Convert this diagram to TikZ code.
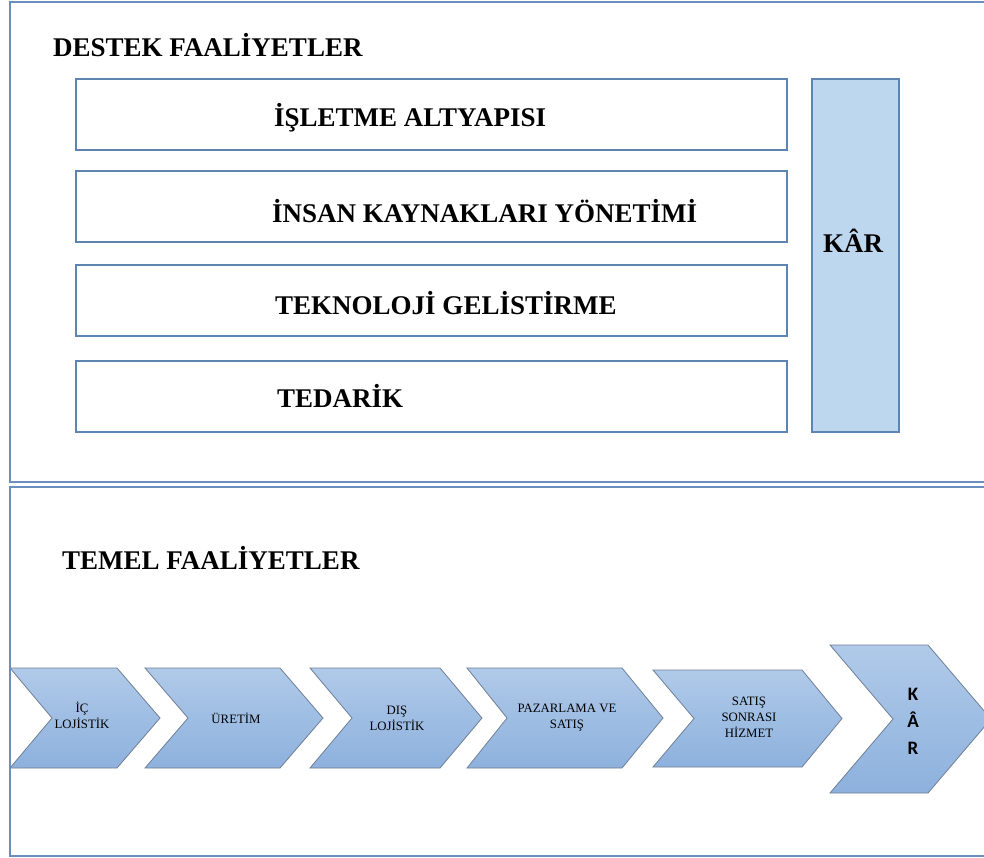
\documentclass[tikz,border=0pt]{standalone}
\usepackage{fontspec}
\setmainfont{Liberation Serif}
\newfontfamily\calib{Carlito}
\definecolor{frameblue}{HTML}{6A8FBF}
\definecolor{boxline}{HTML}{5E84B0}
\definecolor{karfill}{HTML}{BDD7EE}
\definecolor{chevtop}{HTML}{B0CAE9}
\definecolor{chevbot}{HTML}{8DB1DD}
\definecolor{chevline}{HTML}{6F7F96}
\tikzset{
  frame/.style={draw=frameblue, line width=2.2pt},
  supportbox/.style={draw=boxline, line width=1.3pt, fill=white},
  karbox/.style={draw=boxline, line width=1.3pt, fill=karfill},
  heading/.style={font=\bfseries\fontsize{27}{30}\selectfont, anchor=west, inner sep=0pt},
  boxtext/.style={font=\bfseries\fontsize{27}{30}\selectfont, anchor=west, inner sep=0pt},
  chevshape/.style={draw=chevline, line width=0.8pt, top color=chevtop, bottom color=chevbot},
  chevtext/.style={font=\fontsize{12.8}{16}\selectfont, align=center, inner sep=0pt},
}
% chevron: #1 left, #2 notch, #3 top-right, #4 tip, #5 top, #6 bottom
\newcommand{\chevron}[6]{%
  \path[chevshape] (#1,#5) -- (#3,#5) -- (#4,{(#5+#6)/2}) -- (#3,#6) -- (#1,#6) -- (#2,{(#5+#6)/2}) -- cycle;}
\begin{document}
\begin{tikzpicture}[x=1pt,y=-1pt]
\useasboundingbox (0,0) rectangle (984,857);
\fill[white] (0,0) rectangle (984,857);

% outer frames
\draw[frame] (10,2) rectangle (995,482);
\draw[frame] (10,487) rectangle (995,856);

% support activities
\node[heading] (destek) at (53,45) {DESTEK FAALİYETLER};
\draw[supportbox] (76,79) rectangle (787,150);
\draw[supportbox] (76,171) rectangle (787,242);
\draw[supportbox] (76,265) rectangle (787,336);
\draw[supportbox] (76,361) rectangle (787,432);
\node[boxtext] (altyapi) at (274,118) {İŞLETME ALTYAPISI};
\node[boxtext] (insan) at (272,211) {İNSAN KAYNAKLARI YÖNETİMİ};
\node[boxtext] (teknoloji) at (275,303) {TEKNOLOJİ GELİSTİRME};
\node[boxtext] (tedarik) at (277,396) {TEDARİK};
\draw[karbox] (812,79) rectangle (899,432);
\node[font=\bfseries\fontsize{27}{30}\selectfont, inner sep=0pt] (kar) at (853,241) {KÂR};

% primary activities
\node[heading] (temel) at (62,558) {TEMEL FAALİYETLER};
\chevron{10}{52}{117}{160}{668}{768}
\chevron{145}{188}{280}{323}{668}{768}
\chevron{310}{352}{440}{482}{668}{768}
\chevron{467}{507}{622}{663}{668}{768}
\chevron{653}{694}{802}{842}{670}{767}
\chevron{830}{893}{928}{991}{645}{793}
\draw[frameblue, line width=2.2pt] (10,660) -- (10,780);

\node[chevtext] (ic) at (82,715) {İÇ\\LOJİSTİK};
\node[chevtext] (uretim) at (236,718) {ÜRETİM};
\node[chevtext] (dis) at (397,718) {DIŞ\\LOJİSTİK};
\node[chevtext] (pazar) at (567,718) {PAZARLAMA VE\\SATIŞ};
\node[chevtext] (satis) at (749,717) {SATIŞ\\SONRASI\\HİZMET};
\node[font=\calib\bfseries\fontsize{19}{27}\selectfont, align=center, inner sep=0pt] (karok) at (913,721) {K\\Â\\R};
\end{tikzpicture}
\end{document}
